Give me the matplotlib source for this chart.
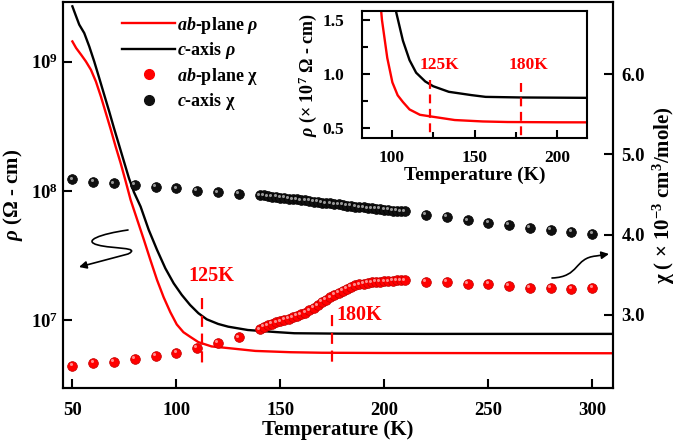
import matplotlib
matplotlib.use("Agg")
import matplotlib.pyplot as plt
from matplotlib.lines import Line2D
from matplotlib.path import Path
from matplotlib.patches import FancyArrowPatch
from matplotlib.transforms import offset_copy

plt.rcParams['font.family'] = 'Liberation Serif'
plt.rcParams['font.weight'] = 'bold'
plt.rcParams['axes.labelweight'] = 'bold'
plt.rcParams['mathtext.fontset'] = 'custom'
plt.rcParams['mathtext.rm'] = 'Liberation Serif:bold'
plt.rcParams['mathtext.bf'] = 'Liberation Serif:bold'
plt.rcParams['mathtext.it'] = 'Liberation Serif:italic:bold'

# resistivity, log10(ohm cm)
T_ab = [50, 51.8, 54.2, 56.5, 58.9, 61.3, 63.7, 66.1, 68.5, 70.8, 73.2, 75.6, 78, 81.2, 84.4,
        87.5, 90.7, 93.9, 97.1, 100.2, 103.4, 106.6, 110.6, 116.9, 124.9, 138, 155, 170, 200,
        250, 310]
logrho_ab = [9.157, 9.106, 9.054, 9.002, 8.938, 8.847, 8.731, 8.602, 8.473, 8.343, 8.215, 8.075,
             7.93, 7.775, 7.62, 7.465, 7.31, 7.175, 7.06, 6.965, 6.905, 6.87, 6.828, 6.795,
             6.782, 6.76, 6.75, 6.746, 6.744, 6.743, 6.742]
T_c = [50, 51.8, 53.3, 55.7, 58.1, 60.5, 62.9, 65.3, 67.7, 70, 72.4, 74.8, 77.2, 79.6, 82.8,
       86.7, 90.7, 94.7, 98.7, 102.6, 106.6, 110.6, 114.6, 120.1, 124.9, 134.4, 148, 156.7,
       178, 220, 310]
logrho_c = [9.429, 9.351, 9.287, 9.222, 9.119, 9.002, 8.874, 8.744, 8.615, 8.486, 8.357, 8.227,
            8.098, 7.99, 7.878, 7.698, 7.543, 7.40, 7.284, 7.194, 7.116, 7.052, 7.005, 6.969,
            6.948, 6.922, 6.906, 6.897, 6.894, 6.892, 6.892]

# susceptibility (x 1e-3 cm3/mole)
T_chi = [50, 60, 70, 80, 90, 100, 110, 120, 130,
         140, 142, 144, 146, 148, 150, 152, 154, 156, 158, 160, 162, 164, 166, 168, 170,
         172, 174, 176, 178, 180, 182, 184, 186, 188, 190, 192, 194, 196, 198, 200, 202,
         204, 206, 208, 210,
         220, 230, 240, 250, 260, 270, 280, 290, 300]
chi_ab = [2.37, 2.40, 2.42, 2.45, 2.49, 2.53, 2.59, 2.65, 2.72,
          2.82, 2.85, 2.87, 2.89, 2.91, 2.92, 2.94, 2.95, 2.97, 2.99, 3.01, 3.03, 3.06, 3.09,
          3.12, 3.16, 3.19, 3.22, 3.25, 3.28, 3.30, 3.33, 3.35, 3.37, 3.38, 3.39, 3.40, 3.405,
          3.41, 3.415, 3.42, 3.42, 3.425, 3.43, 3.43, 3.43,
          3.41, 3.41, 3.39, 3.386, 3.36, 3.34, 3.34, 3.33, 3.34]
chi_c = [4.69, 4.66, 4.64, 4.62, 4.60, 4.58, 4.55, 4.53, 4.51,
         4.49, 4.49, 4.48, 4.47, 4.47, 4.46, 4.46, 4.45, 4.44, 4.44, 4.43, 4.43, 4.42, 4.41,
         4.41, 4.40, 4.39, 4.39, 4.38, 4.38, 4.37, 4.36, 4.36, 4.35, 4.34, 4.34, 4.33, 4.33,
         4.32, 4.32, 4.31, 4.31, 4.30, 4.30, 4.29, 4.29,
         4.25, 4.22, 4.18, 4.15, 4.12, 4.09, 4.06, 4.04, 4.01]

# transition markers: (x, y_top, y_bottom)
mark_main = [(112.5, 1.48e7, 4.6e6), (175, 1.09e7, 4.25e6)]
mark_inset = [(123, 0.94, 0.45), (178, 0.92, 0.43)]

RED = '#ff0000'
rho_ab = [10 ** v for v in logrho_ab]
rho_c = [10 ** v for v in logrho_c]

fig = plt.figure(figsize=(6.85, 4.46), dpi=100)
ax = fig.add_axes([0.092, 0.130, 0.803, 0.8655])
ax2 = ax.twinx()

ax.plot(T_ab, rho_ab, color=RED, lw=1.7)
ax.plot(T_c, rho_c, color='black', lw=1.7)
ax.set_yscale('log')
ax.set_xlim(45.5, 310)
ax.set_ylim(2.97e6, 2.9e9)
ax.set_yticks([1e7, 1e8, 1e9], labels=[r'$10^{7}$', r'$10^{8}$', r'$10^{9}$'])
ax.yaxis.set_minor_locator(plt.NullLocator())
ax.set_xticks([50, 100, 150, 200, 250, 300])
ax.tick_params(direction='in', length=6.5, width=1.5, labelsize=13.5, top=False)
ax.tick_params(axis='x', pad=10)
ax.set_xlabel('Temperature (K)', fontsize=15, labelpad=1)
ax.set_ylabel(r'$\rho$ (Ω - cm)', fontsize=15, labelpad=4)

for x, y0, y1 in mark_main:
    ax.plot([x, x], [y0, y1], color=RED, lw=1.6, dashes=(5, 3))
ax.text(116.8, 2.2e7, '125K', color=RED, fontsize=14.5, ha='center', va='center')
ax.text(177, 1.09e7, '180K', color=RED, fontsize=14.5, ha='left', va='center')

# spheres: base marker plus a small highlight
hl = offset_copy(ax2.transData, fig=fig, x=-1.2, y=1.2, units='points')
ax2.plot(T_chi, chi_ab, 'o', ms=7, color=RED, mec='#c00000', mew=0.5, zorder=3)
ax2.plot(T_chi, chi_c, 'o', ms=7, color='#101010', mec='black', mew=0.5, zorder=3)
ax2.plot(T_chi, chi_ab, 'o', ms=2.2, color='#ffb0b0', mew=0, alpha=0.8, transform=hl, zorder=4)
ax2.plot(T_chi, chi_c, 'o', ms=2.2, color='#bbbbbb', mew=0, alpha=0.8, transform=hl, zorder=4)
ax2.set_ylim(2.09, 6.9)
ax2.set_yticks([3.0, 4.0, 5.0, 6.0], labels=['3.0', '4.0', '5.0', '6.0'])
ax2.tick_params(direction='in', length=6.5, width=1.5, labelsize=13.5, pad=6)
ax2.set_ylabel(r'χ ( $\times$ $10^{-3}$ cm$^{3}$/mole)', fontsize=15, labelpad=4)

for a in (ax, ax2):
    for s in a.spines.values():
        s.set_linewidth(1.5)

handles = [Line2D([], [], color=RED, lw=1.7),
           Line2D([], [], color='black', lw=1.7),
           Line2D([], [], ls='none', marker='o', ms=7, color=RED),
           Line2D([], [], ls='none', marker='o', ms=7, color='#101010')]
labels = [r'$ab$-plane $\rho$', r'$c$-axis $\rho$', r'$ab$-plane χ', r'$c$-axis χ']
ax.legend(handles, labels, loc='upper left', bbox_to_anchor=(0.085, 1.0), frameon=False,
          fontsize=13, handlelength=2.9, handletextpad=0.15, labelspacing=0.25,
          borderaxespad=0.3)

# curly arrows pointing to the axes
W, H = 685.0, 446.0
def fpt(px, py):
    return (px / W, 1 - py / H)

left_path = Path([fpt(128, 230), fpt(100, 234), fpt(82, 241), fpt(98, 245),
                  fpt(112, 249), fpt(142, 247), fpt(128, 254), fpt(79, 267)],
                 [Path.MOVETO, Path.CURVE4, Path.CURVE4, Path.CURVE4,
                  Path.CURVE4, Path.CURVE4, Path.CURVE4, Path.LINETO])
fig.patches.append(FancyArrowPatch(path=left_path, arrowstyle='-|>', mutation_scale=11,
                                   lw=1.2, color='black', transform=fig.transFigure))
right_path = Path([fpt(552, 278), fpt(580, 277), fpt(574, 258), fpt(596, 256), fpt(609, 254)],
                  [Path.MOVETO, Path.CURVE4, Path.CURVE4, Path.CURVE4, Path.LINETO])
fig.patches.append(FancyArrowPatch(path=right_path, arrowstyle='-|>', mutation_scale=11,
                                   lw=1.2, color='black', transform=fig.transFigure))

# inset
ins = fig.add_axes([0.5285, 0.6906, 0.3285, 0.2847])
ins.plot(T_ab, [r / 1e7 for r in rho_ab], color=RED, lw=1.7)
ins.plot(T_c, [r / 1e7 for r in rho_c], color='black', lw=1.7)
ins.set_xlim(81.8, 218.2)
ins.set_ylim(0.41, 1.58)
ins.set_xticks([100, 150, 200])
ins.set_xticks([125, 175], minor=True)
ins.set_yticks([0.5, 1.0, 1.5])
ins.set_yticks([0.75, 1.25], minor=True)
ins.tick_params(which='both', direction='in', width=1.5, labelsize=12.5)
ins.tick_params(which='major', length=6)
ins.tick_params(which='minor', length=4)
ins.tick_params(axis='x', which='major', pad=9)
ins.tick_params(axis='y', which='major', pad=13)
ins.set_xlabel('Temperature (K)', fontsize=14, labelpad=0)
ins.set_ylabel(r'$\rho$ ($\times$ $10^{7}$ Ω - cm)', fontsize=13, labelpad=2)
for s in ins.spines.values():
    s.set_linewidth(1.5)
for x, y0, y1 in mark_inset:
    ins.plot([x, x], [y0, y1], color=RED, lw=1.6, dashes=(4, 2.5))
ins.text(129, 1.083, '125K', color=RED, fontsize=12.5, ha='center', va='center')
ins.text(182.4, 1.083, '180K', color=RED, fontsize=12.5, ha='center', va='center')

fig.savefig('out.png', dpi=100)
